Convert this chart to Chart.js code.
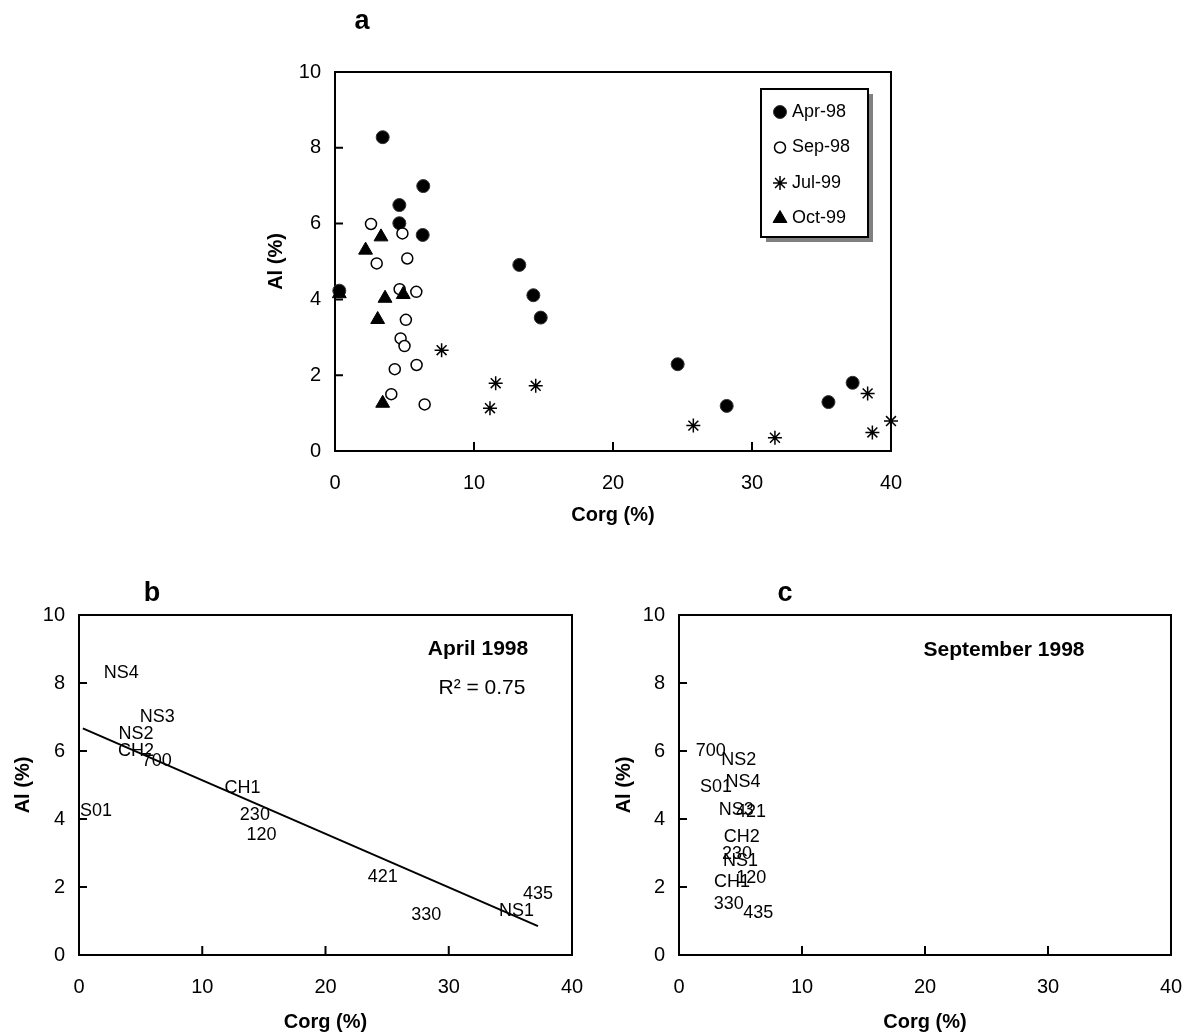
<!DOCTYPE html>
<html>
<head>
<meta charset="utf-8">
<script src="https://cdn.jsdelivr.net/npm/chart.js@4.4.1/dist/chart.umd.min.js"></script>
<style>
  body { margin: 0; background: #fff; }
  #wrap { position: relative; width: 1185px; height: 1032px; overflow: hidden; }
  canvas { position: absolute; }
</style>
</head>
<body>
<div id="wrap">
  <canvas id="chartA" width="700" height="540" style="left:240px;top:0px"></canvas>
  <canvas id="chartB" width="600" height="472" style="left:0px;top:560px"></canvas>
  <canvas id="chartC" width="585" height="472" style="left:600px;top:560px"></canvas>
</div>
<script>
const FONT = "'Liberation Sans', Arial, sans-serif";

// April 1998 samples
const aprSites = ['NS4', 'NS3', 'NS2', 'CH2', '700', 'S01', 'CH1', '230', '120', '421', '330', 'NS1', '435'];
const aprCorg = [3.43, 6.35, 4.63, 4.63, 6.31, 0.31, 13.26, 14.27, 14.8, 24.65, 28.18, 35.5, 37.24];
const aprAl = [8.28, 6.99, 6.49, 6.01, 5.70, 4.23, 4.91, 4.11, 3.52, 2.29, 1.19, 1.29, 1.80];

// September 1998 samples
const sepSites = ['700', 'NS2', 'S01', 'NS4', 'NS3', '421', 'CH2', '230', 'NS1', 'CH1', '120', '330', '435'];
const sepCorg = [2.59, 4.85, 3.0, 5.2, 4.65, 5.85, 5.1, 4.72, 5.0, 4.3, 5.87, 4.05, 6.45];
const sepAl = [5.99, 5.74, 4.95, 5.08, 4.27, 4.2, 3.46, 2.97, 2.77, 2.16, 2.27, 1.5, 1.23];

// July and October 1999
const julCorg = [7.67, 11.56, 11.15, 14.44, 25.78, 31.65, 38.32, 38.66, 40.0];
const julAl = [2.66, 1.79, 1.13, 1.72, 0.67, 0.35, 1.52, 0.49, 0.79];
const octCorg = [3.31, 2.2, 3.6, 4.91, 3.07, 3.43, 0.31];
const octAl = [5.65, 5.3, 4.03, 4.13, 3.47, 1.26, 4.15];

const xTicks = [0, 10, 20, 30, 40];
const yTicks = [0, 2, 4, 6, 8, 10];
const aprR2 = 'R² = 0.75';

function toPoints(xs, ys) {
  return xs.map((x, i) => ({ x: x, y: ys[i] }));
}

// least squares line over the data range (Excel style trendline)
function linearFit(xs, ys) {
  const n = xs.length;
  const mx = xs.reduce((s, v) => s + v, 0) / n;
  const my = ys.reduce((s, v) => s + v, 0) / n;
  let sxy = 0, sxx = 0;
  xs.forEach((x, i) => { sxy += (x - mx) * (ys[i] - my); sxx += (x - mx) * (x - mx); });
  const b = sxy / sxx, a = my - b * mx;
  const x0 = Math.min(...xs), x1 = Math.max(...xs);
  return [{ x: x0, y: a + b * x0 }, { x: x1, y: a + b * x1 }];
}

// box round the plot area and inward tick marks
const framePlugin = {
  id: 'frame',
  beforeDatasetsDraw(chart) {
    const { ctx, chartArea: a, scales } = chart;
    ctx.save();
    ctx.strokeStyle = '#000';
    ctx.lineWidth = 2;
    ctx.strokeRect(a.left, a.top, a.right - a.left, a.bottom - a.top);
    ctx.beginPath();
    scales.x.ticks.forEach(t => {
      const px = scales.x.getPixelForValue(t.value);
      ctx.moveTo(px, a.bottom);
      ctx.lineTo(px, a.bottom - 9);
    });
    scales.y.ticks.forEach(t => {
      const py = scales.y.getPixelForValue(t.value);
      ctx.moveTo(a.left, py);
      ctx.lineTo(a.left + 8, py);
    });
    ctx.stroke();
    ctx.restore();
  }
};

// site names written at the points
const siteLabelPlugin = {
  id: 'siteLabels',
  afterDatasetsDraw(chart) {
    const { ctx, chartArea } = chart;
    chart.data.datasets.forEach((ds, i) => {
      if (!ds.siteLabels) return;
      const meta = chart.getDatasetMeta(i);
      ctx.save();
      ctx.font = '18px ' + FONT;
      ctx.fillStyle = '#000';
      ctx.textAlign = 'center';
      ctx.textBaseline = 'middle';
      meta.data.forEach((el, j) => {
        const txt = ds.siteLabels[j];
        const w = ctx.measureText(txt).width;
        const x = Math.max(el.x, chartArea.left + w / 2 + 1);
        ctx.fillText(txt, x, el.y);
      });
      ctx.restore();
    });
  }
};

// free text: panel letters and notes
const notesPlugin = {
  id: 'notes',
  afterDraw(chart, args, opts) {
    const ctx = chart.ctx;
    (opts.items || []).forEach(n => {
      ctx.save();
      ctx.font = n.font + ' ' + FONT;
      ctx.fillStyle = '#000';
      ctx.textAlign = 'center';
      ctx.textBaseline = 'middle';
      ctx.fillText(n.text, n.x, n.y);
      ctx.restore();
    });
  }
};

// boxed legend with shadow, inside chart a
const boxLegendPlugin = {
  id: 'boxLegend',
  afterDraw(chart, args, opts) {
    if (!opts.box) return;
    const ctx = chart.ctx;
    const b = opts.box;
    ctx.save();
    ctx.fillStyle = '#808080';
    ctx.fillRect(b.x + 5, b.y + 5, b.w, b.h);
    ctx.fillStyle = '#fff';
    ctx.fillRect(b.x, b.y, b.w, b.h);
    ctx.strokeStyle = '#000';
    ctx.lineWidth = 2;
    ctx.strokeRect(b.x, b.y, b.w, b.h);
    chart.data.datasets.forEach((ds, i) => {
      const y = b.y + 23 + i * 35.5;
      ctx.fillStyle = ds.backgroundColor;
      ctx.strokeStyle = ds.borderColor;
      ctx.lineWidth = ds.borderWidth;
      Chart.helpers.drawPoint(ctx, { pointStyle: ds.pointStyle, radius: ds.pointRadius, rotation: 0, borderWidth: ds.borderWidth }, b.x + 19, y);
      ctx.fillStyle = '#000';
      ctx.font = '18px ' + FONT;
      ctx.textAlign = 'left';
      ctx.textBaseline = 'middle';
      ctx.fillText(ds.label, b.x + 31, y);
    });
    ctx.restore();
  }
};

function scaleOptions(yWidth, xHeight) {
  return {
    x: {
      type: 'linear', min: 0, max: 40,
      afterBuildTicks: s => { s.ticks = xTicks.map(v => ({ value: v })); },
      afterFit: s => { s.height = xHeight; s.paddingLeft = 0; s.paddingRight = 0; },
      ticks: { color: '#000', font: { size: 20, family: FONT }, padding: 20 },
      grid: { display: false, drawTicks: false },
      border: { display: false },
      title: { display: true, text: 'Corg (%)', color: '#000', padding: 0,
        font: { size: 20, weight: 'bold', family: FONT, lineHeight: 1 } }
    },
    y: {
      type: 'linear', min: 0, max: 10,
      afterBuildTicks: s => { s.ticks = yTicks.map(v => ({ value: v })); },
      afterFit: s => { s.width = yWidth; },
      ticks: { color: '#000', font: { size: 20, family: FONT }, padding: 14 },
      grid: { display: false, drawTicks: false },
      border: { display: false },
      title: { display: true, text: 'Al (%)', color: '#000', padding: 0,
        font: { size: 20, weight: 'bold', family: FONT, lineHeight: 1 } }
    }
  };
}

function baseOptions(padding, yWidth, xHeight, notes, box) {
  return {
    responsive: false,
    animation: false,
    layout: { padding: padding },
    scales: scaleOptions(yWidth, xHeight),
    plugins: {
      legend: { display: false },
      tooltip: { enabled: false },
      notes: { items: notes },
      boxLegend: { box: box }
    }
  };
}

// a: all four campaigns
new Chart(document.getElementById('chartA'), {
  type: 'scatter',
  data: {
    datasets: [
      { label: 'Apr-98', data: toPoints(aprCorg, aprAl), pointStyle: 'circle', pointRadius: 6.5,
        backgroundColor: '#000', borderColor: '#333', borderWidth: 1, clip: false, order: 4 },
      { label: 'Sep-98', data: toPoints(sepCorg, sepAl), pointStyle: 'circle', pointRadius: 5.5,
        backgroundColor: '#fff', borderColor: '#000', borderWidth: 1.5, clip: false, order: 3 },
      { label: 'Jul-99', data: toPoints(julCorg, julAl), pointStyle: 'star', pointRadius: 7,
        backgroundColor: '#000', borderColor: '#000', borderWidth: 1.5, clip: false, order: 2 },
      { label: 'Oct-99', data: toPoints(octCorg, octAl), pointStyle: 'triangle', pointRadius: 8,
        backgroundColor: '#000', borderColor: '#000', borderWidth: 1, clip: false, order: 1 }
    ]
  },
  options: baseOptions({ left: 26, top: 72, right: 49, bottom: 15 }, 69, 74,
    [{ text: 'a', x: 122, y: 22, font: 'bold 27px' }],
    { x: 521, y: 89, w: 107, h: 148 }),
  plugins: [framePlugin, notesPlugin, boxLegendPlugin]
});

// b: April 1998 with trend line
new Chart(document.getElementById('chartB'), {
  type: 'scatter',
  data: {
    datasets: [
      { label: 'April 1998', data: toPoints(aprCorg, aprAl), siteLabels: aprSites,
        pointRadius: 0, clip: false },
      { type: 'line', label: 'trend', data: linearFit(aprCorg, aprAl), borderColor: '#000',
        borderWidth: 2, pointRadius: 0, fill: false, clip: false }
    ]
  },
  options: baseOptions({ left: 13, top: 55, right: 28, bottom: 0 }, 66, 77,
    [{ text: 'b', x: 152, y: 34, font: 'bold 27px' },
     { text: 'April 1998', x: 478, y: 89, font: 'bold 21px' },
     { text: aprR2, x: 482, y: 128, font: '21px' }]),
  plugins: [framePlugin, siteLabelPlugin, notesPlugin]
});

// c: September 1998
new Chart(document.getElementById('chartC'), {
  type: 'scatter',
  data: {
    datasets: [
      { label: 'September 1998', data: toPoints(sepCorg, sepAl), siteLabels: sepSites,
        pointRadius: 0, clip: false }
    ]
  },
  options: baseOptions({ left: 14, top: 55, right: 14, bottom: 0 }, 65, 77,
    [{ text: 'c', x: 185, y: 34, font: 'bold 27px' },
     { text: 'September 1998', x: 404, y: 90, font: 'bold 21px' }]),
  plugins: [framePlugin, siteLabelPlugin, notesPlugin]
});
</script>
</body>
</html>
